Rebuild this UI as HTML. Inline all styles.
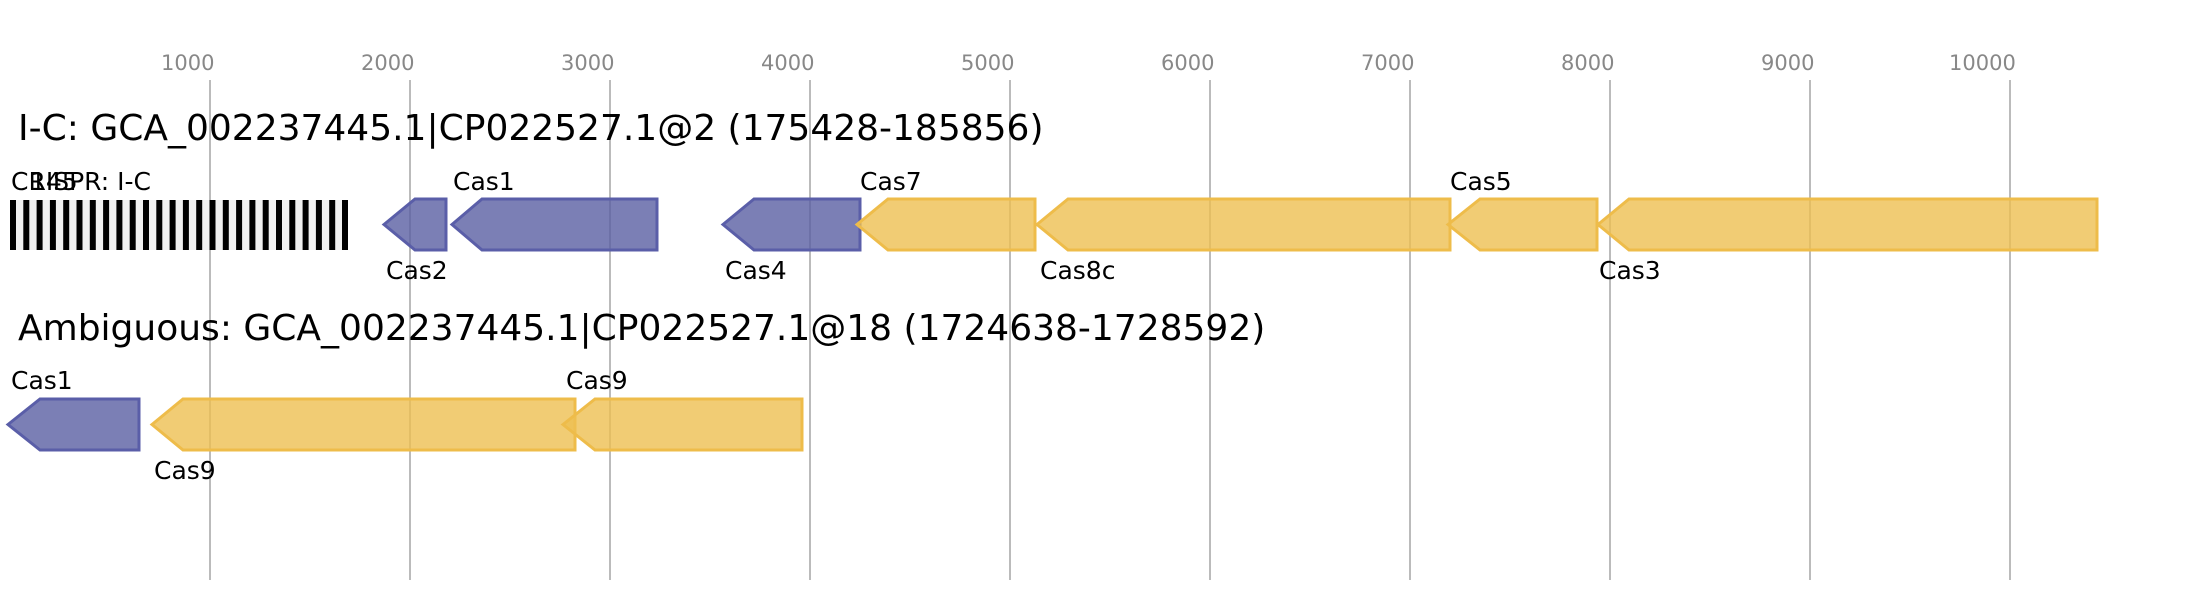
<!DOCTYPE html>
<html><head><meta charset="utf-8"><style>
html,body{margin:0;padding:0;background:#fff;}
svg{display:block;font-family:"DejaVu Sans","Liberation Sans",sans-serif;}
</style></head><body>
<svg width="2186" height="600" viewBox="0 0 2186 600" xmlns="http://www.w3.org/2000/svg">
<rect width="2186" height="600" fill="#fff"/>
<g fill="#888" font-size="21">
<text x="161" y="70">1000</text><text x="361" y="70">2000</text><text x="561" y="70">3000</text>
<text x="761" y="70">4000</text><text x="961" y="70">5000</text><text x="1161" y="70">6000</text>
<text x="1361" y="70">7000</text><text x="1561" y="70">8000</text><text x="1761" y="70">9000</text>
<text x="1949" y="70">10000</text>
</g>
<g stroke="#bbb" stroke-width="2">
<line x1="210" y1="80" x2="210" y2="580"/><line x1="410" y1="80" x2="410" y2="580"/>
<line x1="610" y1="80" x2="610" y2="580"/><line x1="810" y1="80" x2="810" y2="580"/>
<line x1="1010" y1="80" x2="1010" y2="580"/><line x1="1210" y1="80" x2="1210" y2="580"/>
<line x1="1410" y1="80" x2="1410" y2="580"/><line x1="1610" y1="80" x2="1610" y2="580"/>
<line x1="1810" y1="80" x2="1810" y2="580"/><line x1="2010" y1="80" x2="2010" y2="580"/>
</g>
<text x="18" y="140" font-size="36" fill="#000">I-C: GCA_002237445.1|CP022527.1@2 (175428-185856)</text>
<text x="18" y="340" font-size="36" fill="#000">Ambiguous: GCA_002237445.1|CP022527.1@18 (1724638-1728592)</text>
<rect x="10" y="200" width="338" height="50" fill="#f0f0f0"/>
<g fill="#000">
<rect x="10" y="200" width="6" height="50"/><rect x="23.3" y="200" width="6" height="50"/><rect x="36.6" y="200" width="6" height="50"/><rect x="49.9" y="200" width="6" height="50"/><rect x="63.2" y="200" width="6" height="50"/><rect x="76.5" y="200" width="6" height="50"/><rect x="89.8" y="200" width="6" height="50"/><rect x="103.1" y="200" width="6" height="50"/><rect x="116.4" y="200" width="6" height="50"/><rect x="129.7" y="200" width="6" height="50"/><rect x="143" y="200" width="6" height="50"/><rect x="156.3" y="200" width="6" height="50"/><rect x="169.6" y="200" width="6" height="50"/><rect x="182.9" y="200" width="6" height="50"/><rect x="196.2" y="200" width="6" height="50"/><rect x="209.5" y="200" width="6" height="50"/><rect x="222.8" y="200" width="6" height="50"/><rect x="236.1" y="200" width="6" height="50"/><rect x="249.4" y="200" width="6" height="50"/><rect x="262.7" y="200" width="6" height="50"/><rect x="276" y="200" width="6" height="50"/><rect x="289.3" y="200" width="6" height="50"/><rect x="302.6" y="200" width="6" height="50"/><rect x="315.9" y="200" width="6" height="50"/><rect x="329.2" y="200" width="6" height="50"/><rect x="342" y="200" width="6" height="50"/>
</g>
<g stroke-width="3">
<g fill="#5a5fa2" fill-opacity="0.8" stroke="#5a5ea8">
<polygon points="384,224.5 415,199 446,199 446,250 415,250"/>
<polygon points="452,224.5 482,199 657,199 657,250 482,250"/>
<polygon points="723,224.5 754,199 860,199 860,250 754,250"/>
<polygon points="8,424.5 40,399 139,399 139,450 40,450"/>
</g>
<g fill="#edbf51" fill-opacity="0.8" stroke="#eebc4a">
<polygon points="857,224.5 888,199 1035,199 1035,250 888,250"/>
<polygon points="1037,224.5 1068,199 1450,199 1450,250 1068,250"/>
<polygon points="1448,224.5 1480,199 1597,199 1597,250 1480,250"/>
<polygon points="1598,224.5 1629,199 2097,199 2097,250 1629,250"/>
<polygon points="152,424.5 183,399 575,399 575,450 183,450"/>
<polygon points="563,424.5 595,399 802,399 802,450 595,450"/>
</g>
</g>
<g font-size="25" fill="#000">
<text x="11" y="190">CRISPR: I-C</text>
<text x="30" y="190">145</text>
<text x="453" y="190">Cas1</text>
<text x="386" y="279">Cas2</text>
<text x="725" y="279">Cas4</text>
<text x="860" y="190">Cas7</text>
<text x="1040" y="279">Cas8c</text>
<text x="1450" y="190">Cas5</text>
<text x="1599" y="279">Cas3</text>
<text x="11" y="389">Cas1</text>
<text x="154" y="479">Cas9</text>
<text x="566" y="389">Cas9</text>
</g>
</svg>
</body></html>
